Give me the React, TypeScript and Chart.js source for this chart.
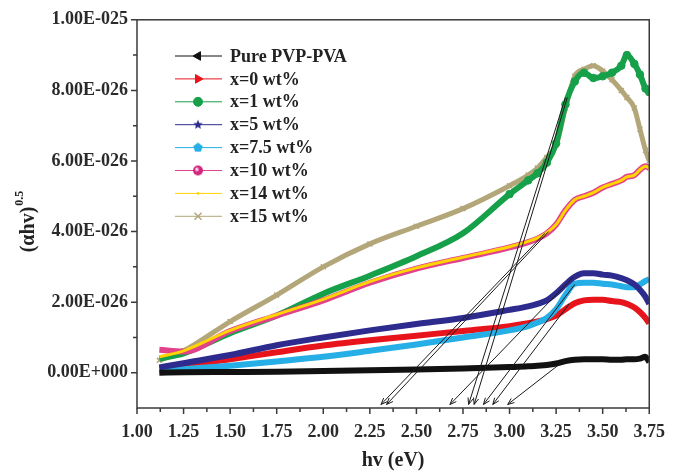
import React, { useEffect, useRef } from 'react';
import { Chart, registerables } from 'chart.js';
import { drawPoint } from 'chart.js/helpers';

Chart.register(...registerables);

// ---- data (y values in units of 1E-026) ----
const UNIT = 1e-26;
const energy = [1.12, 1.25, 1.5, 1.75, 2.0, 2.25, 2.5, 2.75, 3.0, 3.1, 3.15, 3.2, 3.25, 3.3, 3.35, 3.4, 3.45, 3.5, 3.55, 3.6, 3.63, 3.67, 3.7, 3.73, 3.75];

const purePVPPVA = [0.0, 0.01, 0.02, 0.03, 0.05, 0.07, 0.09, 0.12, 0.16, 0.18, 0.2, 0.22, 0.26, 0.33, 0.37, 0.38, 0.38, 0.38, 0.37, 0.37, 0.38, 0.38, 0.4, 0.45, 0.3];
const wt0 = [0.12, 0.2, 0.38, 0.58, 0.77, 0.92, 1.05, 1.18, 1.32, 1.4, 1.45, 1.52, 1.62, 1.8, 1.97, 2.05, 2.07, 2.07, 2.03, 2.0, 1.95, 1.85, 1.72, 1.55, 1.4];
const wt1 = [0.4, 0.55, 1.12, 1.62, 2.24, 2.75, 3.3, 3.95, 5.06, 5.45, 5.65, 5.95, 6.5, 7.6, 8.25, 8.5, 8.35, 8.4, 8.5, 8.7, 9.0, 8.75, 8.45, 8.05, 7.95];
const wt5 = [0.15, 0.27, 0.5, 0.78, 1.0, 1.2, 1.38, 1.55, 1.78, 1.88, 1.95, 2.05, 2.25, 2.5, 2.72, 2.82, 2.82, 2.78, 2.75, 2.68, 2.62, 2.5, 2.35, 2.15, 1.95];
const wt7p5 = [0.05, 0.1, 0.2, 0.32, 0.45, 0.62, 0.8, 1.0, 1.2, 1.32, 1.42, 1.55, 1.8, 2.2, 2.52, 2.55, 2.55, 2.52, 2.5, 2.45, 2.42, 2.42, 2.5, 2.6, 2.65];
const wt10 = [0.65, 0.6, 1.18, 1.62, 2.05, 2.55, 2.95, 3.25, 3.55, 3.7, 3.8, 3.95, 4.2, 4.6, 4.9, 5.0, 5.1, 5.25, 5.35, 5.45, 5.55, 5.6, 5.75, 5.85, 5.8];
const wt14 = [0.45, 0.62, 1.2, 1.65, 2.08, 2.58, 2.97, 3.27, 3.57, 3.72, 3.82, 3.97, 4.2, 4.6, 4.9, 5.0, 5.1, 5.25, 5.35, 5.45, 5.55, 5.6, 5.75, 5.85, 5.8];
const wt15 = [0.35, 0.62, 1.45, 2.2, 3.0, 3.65, 4.15, 4.65, 5.3, 5.6, 5.8, 6.1, 6.45, 7.5, 8.4, 8.6, 8.7, 8.55, 8.3, 8.0, 7.8, 7.5, 6.9, 6.3, 6.0];

const seriesNames = ['Pure PVP-PVA', 'x=0 wt%', 'x=1 wt%', 'x=5 wt%', 'x=7.5 wt%', 'x=10 wt%', 'x=14 wt%', 'x=15 wt%'];
const seriesValues = [purePVPPVA, wt0, wt1, wt5, wt7p5, wt10, wt14, wt15];

// tangent (Tauc) lines: start on curve -> arrow tip near x axis
const arrowStartX = [3.30, 3.31, 3.19, 3.21, 3.34, 3.35, 3.32, 3.29];
const arrowStartY = [7.8, 7.8, 3.95, 4.0, 2.7, 2.5, 1.95, 0.33];
const arrowTipX = [2.78, 2.81, 2.31, 2.34, 2.68, 2.86, 2.91, 2.99];
const arrowTipY = [-0.9, -0.9, -0.9, -0.9, -0.9, -0.9, -0.9, -0.9];

const xMajorTicks = [1.0, 1.25, 1.5, 1.75, 2.0, 2.25, 2.5, 2.75, 3.0, 3.25, 3.5, 3.75];
const yMajorTicks = [0, 2, 4, 6, 8, 10];

const FONT = '"Liberation Serif", "Times New Roman", serif';
const colors = ['#111111', '#e8141c', '#17a04a', '#2d2b8e', '#26aee6', '#e2418b', '#ffd400', '#b3a679'];
const lineWidths = [6, 6, 6, 6, 6, 6, 3, 5];
const drawOrder = [0, 3, 6, 1, 2, 5, 4, 7];

function sci(v: number): string {
  if (v === 0) return '0.00E+000';
  const e = Math.floor(Math.log10(Math.abs(v)) + 1e-9);
  const m = v / Math.pow(10, e);
  return m.toFixed(2) + 'E' + (e < 0 ? '-' : '+') + String(Math.abs(e)).padStart(3, '0');
}

function polyCanvas(color: string, r: number, n: number, inner: number | null) {
  const c = document.createElement('canvas');
  const s = Math.ceil(r * 2 + 2);
  c.width = s; c.height = s;
  const ctx = c.getContext('2d')!;
  ctx.fillStyle = color;
  ctx.beginPath();
  const count = inner ? n * 2 : n;
  for (let k = 0; k < count; k++) {
    const rr = inner && k % 2 === 1 ? r * inner : r;
    const a = -Math.PI / 2 + (k * 2 * Math.PI) / count;
    ctx.lineTo(s / 2 + rr * Math.cos(a), s / 2 + rr * Math.sin(a));
  }
  ctx.closePath();
  ctx.fill();
  return c;
}

function sphereCanvas(color: string, r: number) {
  const c = document.createElement('canvas');
  const s = Math.ceil(r * 2 + 2);
  c.width = s; c.height = s;
  const ctx = c.getContext('2d')!;
  const g = ctx.createRadialGradient(s / 2 - r * 0.3, s / 2 - r * 0.3, 0.5, s / 2, s / 2, r);
  g.addColorStop(0, '#ffffff');
  g.addColorStop(0.45, color);
  g.addColorStop(1, color);
  ctx.fillStyle = g;
  ctx.beginPath();
  ctx.arc(s / 2, s / 2, r, 0, Math.PI * 2);
  ctx.fill();
  return c;
}

export default function App() {
  const ref = useRef<HTMLCanvasElement | null>(null);

  useEffect(() => {
    const canvas = ref.current;
    if (!canvas) return;

    const star = polyCanvas(colors[3], 5, 5, 0.45);
    const penta = polyCanvas(colors[4], 5, 5, null);
    const sphere = sphereCanvas('#d4247f', 5);

    const legendStyles: any[] = [
      { pointStyle: 'triangle', rotation: -90, radius: 5 },
      { pointStyle: 'triangle', rotation: 90, radius: 5 },
      { pointStyle: 'circle', rotation: 0, radius: 4.5 },
      { pointStyle: star, rotation: 0, radius: 5 },
      { pointStyle: penta, rotation: 0, radius: 5 },
      { pointStyle: sphere, rotation: 0, radius: 5 },
      { pointStyle: 'circle', rotation: 0, radius: 1 },
      { pointStyle: 'crossRot', rotation: 0, radius: 5 },
    ];

    const pointRadiusFor = (i: number) => (c: any) => {
      const x = c.raw ? c.raw.x : 0;
      if (i === 2) return x >= 3.0 ? 3.8 : 0;
      if (i === 7) return 3.5;
      return 0;
    };

    const datasets = seriesValues.map((vals, i) => ({
      label: seriesNames[i],
      data: energy.map((x, k) => ({ x, y: vals[k] })),
      borderColor: colors[i],
      backgroundColor: colors[i],
      borderWidth: lineWidths[i],
      order: drawOrder[i],
      pointStyle: i === 7 ? 'crossRot' : 'circle',
      pointRadius: pointRadiusFor(i),
      pointBorderWidth: i === 7 ? 1.5 : 1,
      cubicInterpolationMode: 'monotone',
    }));

    const overlay = {
      id: 'overlay',
      afterDatasetsDraw(chart: any) {
        const { ctx, scales } = chart;
        const xs = scales.x, ys = scales.y;
        ctx.save();
        ctx.strokeStyle = '#1a1a1a';
        ctx.lineWidth = 1;
        for (let i = 0; i < arrowStartX.length; i++) {
          const x1 = xs.getPixelForValue(arrowStartX[i]);
          const y1 = ys.getPixelForValue(arrowStartY[i]);
          const x2 = xs.getPixelForValue(arrowTipX[i]);
          const y2 = ys.getPixelForValue(arrowTipY[i]);
          ctx.beginPath();
          ctx.moveTo(x1, y1);
          ctx.lineTo(x2, y2);
          ctx.stroke();
          const ang = Math.atan2(y1 - y2, x1 - x2);
          const L = 7;
          ctx.beginPath();
          ctx.moveTo(x2 + L * Math.cos(ang + 0.38), y2 + L * Math.sin(ang + 0.38));
          ctx.lineTo(x2, y2);
          ctx.lineTo(x2 + L * Math.cos(ang - 0.38), y2 + L * Math.sin(ang - 0.38));
          ctx.stroke();
        }
        ctx.restore();
      },
      afterDraw(chart: any) {
        const { ctx, chartArea: a, scales } = chart;
        const xs = scales.x, ys = scales.y;
        ctx.save();
        // frame
        ctx.strokeStyle = '#3a3a3a';
        ctx.lineWidth = 1.5;
        ctx.strokeRect(a.left, a.top, a.right - a.left, a.bottom - a.top);
        // x ticks
        ctx.beginPath();
        for (let v = 1.0; v <= 3.7501; v += 0.125) {
          const px = xs.getPixelForValue(v);
          const major = xMajorTicks.some((t) => Math.abs(t - v) < 1e-6);
          ctx.moveTo(px, a.bottom);
          ctx.lineTo(px, a.bottom + (major ? 6 : 4));
        }
        // y ticks
        for (let v = 0; v <= 10; v += 1) {
          const py = ys.getPixelForValue(v);
          const major = yMajorTicks.indexOf(v) >= 0;
          ctx.moveTo(a.left, py);
          ctx.lineTo(a.left - (major ? 6 : 4), py);
        }
        ctx.stroke();

        // x title
        ctx.fillStyle = '#222';
        ctx.font = `bold 20px ${FONT}`;
        ctx.textAlign = 'center';
        ctx.textBaseline = 'middle';
        ctx.fillText('hv (eV)', (a.left + a.right) / 2, 461);

        // y title with superscript
        ctx.save();
        ctx.translate(29, 222);
        ctx.rotate(-Math.PI / 2);
        ctx.font = `bold 20px ${FONT}`;
        const main = '(\u03b1hv)';
        const w1 = ctx.measureText(main).width;
        ctx.font = `bold 12px ${FONT}`;
        const sup = '0.5';
        const w2 = ctx.measureText(sup).width;
        const start = -(w1 + w2) / 2;
        ctx.textAlign = 'left';
        ctx.font = `bold 20px ${FONT}`;
        ctx.fillText(main, start, 0);
        ctx.font = `bold 12px ${FONT}`;
        ctx.fillText(sup, start + w1 + 1, -9);
        ctx.restore();

        // legend
        for (let i = 0; i < seriesNames.length; i++) {
          const y = 56 + i * 22.9;
          ctx.strokeStyle = colors[i];
          ctx.lineWidth = 1;
          ctx.beginPath();
          ctx.moveTo(175, y);
          ctx.lineTo(222, y);
          ctx.stroke();
          ctx.fillStyle = colors[i];
          ctx.strokeStyle = colors[i];
          ctx.lineWidth = i === 7 ? 1.5 : 1;
          const st = legendStyles[i];
          drawPoint(ctx, { pointStyle: st.pointStyle, rotation: st.rotation, radius: st.radius, borderWidth: ctx.lineWidth } as any, 198, y);
          ctx.fillStyle = '#222';
          ctx.font = `bold 18px ${FONT}`;
          ctx.textAlign = 'left';
          ctx.textBaseline = 'middle';
          ctx.fillText(seriesNames[i], 230, y + 1);
        }
        ctx.restore();
      },
    };

    const tickFont = { family: FONT, size: 18, weight: 'bold' as const };

    const chart = new Chart(canvas, {
      type: 'line',
      data: { datasets: datasets as any },
      options: {
        responsive: false,
        animation: false,
        devicePixelRatio: 1,
        layout: { padding: { top: 18, right: 14, left: 0, bottom: 0 } },
        plugins: { legend: { display: false }, tooltip: { enabled: false } },
        scales: {
          x: {
            type: 'linear',
            min: 1,
            max: 3.75,
            grid: { display: false, drawTicks: false },
            border: { display: false },
            ticks: {
              stepSize: 0.125,
              autoSkip: false,
              maxRotation: 0,
              padding: 14,
              color: '#2a2a2a',
              font: tickFont,
              callback: (v: any) => {
                const n = Number(v);
                return xMajorTicks.some((t) => Math.abs(t - n) < 1e-6) ? n.toFixed(2) : '';
              },
            },
            afterFit: (s: any) => { s.height = 67; },
          },
          y: {
            type: 'linear',
            min: -1,
            max: 10,
            grid: { display: false, drawTicks: false },
            border: { display: false },
            ticks: {
              stepSize: 1,
              autoSkip: false,
              padding: 9,
              color: '#2a2a2a',
              font: tickFont,
              callback: (v: any) => {
                const n = Number(v);
                return yMajorTicks.indexOf(n) >= 0 ? sci(n * UNIT) : '';
              },
            },
            afterFit: (s: any) => { s.width = 137; },
          },
        },
      },
      plugins: [overlay],
    });

    return () => chart.destroy();
  }, []);

  return (
    <div style={{ position: 'fixed', left: 0, top: 0, width: 679, height: 475, background: '#fff' }}>
      <canvas ref={ref} width={679} height={475} style={{ display: 'block', width: 679, height: 475 }} />
    </div>
  );
}
